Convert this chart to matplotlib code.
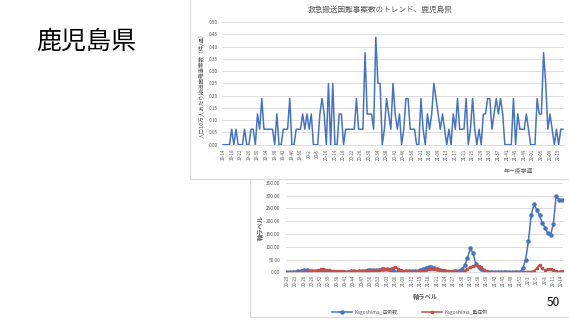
import matplotlib
matplotlib.use('Agg')
import matplotlib.pyplot as plt
from matplotlib.patches import Rectangle
import numpy as np

plt.rcParams['font.family'] = ['Noto Sans CJK JP', 'DejaVu Sans']

# 上のグラフ: 人口10万人あたり搬送困難事案数（週ごと）
top_weeks = ([f"19-{w}" for w in range(14, 53)] + [f"20-{w}" for w in range(1, 54)]
             + [f"21-{w:02d}" for w in range(1, 53)] + [f"22-{w:02d}" for w in range(1, 16)])
top_rate = [
    0, 0, 0, 0, 0.063, 0, 0.063, 0, 0, 0,
    0.063, 0, 0, 0.063, 0.063, 0, 0.125, 0.063, 0.188, 0.063,
    0.063, 0.063, 0.063, 0.063, 0, 0.125, 0, 0, 0.063, 0.063,
    0.063, 0.188, 0, 0, 0.063, 0.063, 0.063, 0.125, 0.063, 0.125,
    0.063, 0.125, 0, 0, 0, 0.125, 0.188, 0.125, 0, 0.25,
    0, 0.25, 0, 0, 0.125, 0.125, 0, 0.063, 0.063, 0.063,
    0.063, 0.063, 0.188, 0.063, 0.063, 0.063, 0.375, 0.125, 0.125, 0.125,
    0.063, 0.438, 0.25, 0.25, 0, 0.063, 0.188, 0.125, 0.063, 0.25,
    0.125, 0.063, 0.125, 0, 0.063, 0.188, 0.188, 0.063, 0.063, 0.063,
    0, 0, 0.188, 0.063, 0, 0.125, 0.063, 0.125, 0.25, 0.188,
    0.125, 0.063, 0.125, 0.063, 0, 0.063, 0, 0.125, 0.063, 0.188,
    0.063, 0.063, 0.063, 0.188, 0, 0.063, 0.188, 0.063, 0, 0.063,
    0, 0.125, 0.125, 0.188, 0.188, 0.063, 0.125, 0.188, 0.125, 0.188,
    0.125, 0, 0, 0, 0, 0.188, 0, 0.125, 0.063, 0.063,
    0.063, 0.125, 0.063, 0, 0, 0, 0.188, 0.125, 0.125, 0.375,
    0.25, 0.063, 0.125, 0.063, 0, 0.063, 0, 0.063, 0.063,
]

# 下のグラフ: 症例数と重症例
bottom_weeks = ([f"20-{w}" for w in range(20, 54)] + [f"21-{w:02d}" for w in range(1, 53)]
                + [f"22-{w}" for w in range(1, 15)])
cases = [
    0, 1, 2, 3, 5, 7, 8, 8, 7, 6,
    5, 4, 3, 2, 2, 3, 3, 2, 2, 2,
    1, 2, 3, 4, 4, 3, 4, 5, 6, 8,
    10, 9, 8, 10, 12, 13, 12, 10, 6, 3,
    2, 2, 3, 4, 5, 4, 5, 6, 8, 12,
    18, 21, 19, 15, 11, 8, 6, 4, 3, 3,
    4, 5, 6, 12, 28, 55, 93, 75, 32, 20,
    12, 3, 1, 1, 1, 2, 1, 1, 1, 1,
    2, 1, 1, 2, 3, 15, 50, 123, 225, 265,
    245, 222, 192, 175, 153, 145, 190, 300, 283, 281,
]
severe = [
    2, 2, 2, 2, 3, 3, 3, 3, 4, 4,
    5, 8, 11, 12, 10, 8, 7, 6, 5, 4,
    4, 3, 3, 4, 5, 5, 5, 6, 7, 7,
    8, 9, 10, 10, 11, 12, 12, 14, 17, 20,
    14, 8, 6, 5, 4, 3, 3, 4, 5, 7,
    9, 11, 12, 12, 11, 10, 9, 7, 6, 5,
    4, 3, 2, 2, 5, 12, 20, 24, 27, 26,
    20, 10, 4, 2, 2, 1, 1, 1, 1, 1,
    1, 1, 1, 1, 2, 2, 2, 3, 3, 6,
    15, 30, 15, 8, 13, 12, 8, 4, 3, 6,
]

W, H = 569, 320
GREY = '#595959'
GRID = '#D9D9D9'
BLUE = '#4472C4'
RED = '#C0504D'


def px_box(x0, y0, x1, y1):
    return [x0 / W, 1 - y1 / H, (x1 - x0) / W, (y1 - y0) / H]


fig = plt.figure(figsize=(W / 100, H / 100), dpi=100)
fig.patch.set_facecolor('white')

# グラフの枠
fig.add_artist(Rectangle((250 / W, 1 - 317 / H), (572 - 250) / W, (317 - 165) / H,
                         transform=fig.transFigure, facecolor='white',
                         edgecolor=GRID, lw=0.8, zorder=-2))
fig.add_artist(Rectangle((190 / W, 1 - 179 / H), (572 - 190) / W, 181 / H,
                         transform=fig.transFigure, facecolor='white',
                         edgecolor=GRID, lw=0.8, zorder=-1))

# 上のグラフ
ax1 = fig.add_axes(px_box(222, 22, 564, 144.7))
ax1.set_facecolor('none')
x1 = np.arange(len(top_rate))
ax1.plot(x1, top_rate, color=BLUE, lw=1.1)
ax1.set_xlim(-0.5, len(top_rate) - 0.5)
ax1.set_ylim(0, 0.5)
yt = np.arange(0, 0.51, 0.05)
ax1.set_yticks(yt)
ax1.set_yticklabels([f"{v:.2f}" for v in yt])
ax1.set_xticks(x1[::4])
ax1.set_xticklabels(top_weeks[::4], rotation=90)
ax1.yaxis.grid(True, color=GRID, lw=0.6)
ax1.set_axisbelow(True)
for s in ['top', 'right', 'left']:
    ax1.spines[s].set_visible(False)
ax1.spines['bottom'].set_color(GRID)
ax1.spines['bottom'].set_linewidth(0.6)
ax1.tick_params(axis='y', length=0, labelsize=3.4, colors=GREY, pad=3)
ax1.tick_params(axis='x', length=0, labelsize=3.2, colors=GREY, pad=3)

fig.text(380 / W, 1 - 10 / H, '救急搬送困難事案数のトレンド、鹿児島県',
         ha='center', va='center', fontsize=5.5, color=GREY)
fig.text(202 / W, 1 - 84 / H, '人口10万人あたり搬送困難事案数（件/週）',
         ha='center', va='center', rotation=90, fontsize=4, color=GREY)
fig.text(518 / W, 1 - 170 / H, '年－疫学週', ha='center', va='center',
         fontsize=4.2, color=GREY)

# 下のグラフ
ax2 = fig.add_axes(px_box(285.9, 182.7, 563.1, 272.3))
ax2.set_facecolor('none')
x2 = np.arange(len(cases))
ax2.plot(x2, cases, color=BLUE, lw=1.1, marker='o', ms=2.2, label='Kagoshima_症例数')
ax2.plot(x2, severe, color=RED, lw=1.1, marker='s', ms=2.0, label='Kagoshima_重症例')
ax2.set_xlim(-0.5, len(cases) - 0.5)
ax2.set_ylim(0, 350)
yt2 = np.arange(0, 351, 50)
ax2.set_yticks(yt2)
ax2.set_yticklabels([f"{v:.2f}" for v in yt2])
ax2.set_xticks(x2[::3])
ax2.set_xticklabels(bottom_weeks[::3], rotation=90)
ax2.yaxis.grid(True, color=GRID, lw=0.6)
ax2.set_axisbelow(True)
for s in ['top', 'right', 'left']:
    ax2.spines[s].set_visible(False)
ax2.spines['bottom'].set_color(GRID)
ax2.spines['bottom'].set_linewidth(0.6)
ax2.tick_params(axis='y', length=0, labelsize=3.4, colors=GREY, pad=4)
ax2.tick_params(axis='x', length=0, labelsize=3.2, colors=GREY, pad=2)

fig.text(425 / W, 1 - 296 / H, '軸ラベル', ha='center', va='center',
         fontsize=4.5, color=GREY, fontweight='bold')
fig.text(260 / W, 1 - 228 / H, '軸ラベル', ha='center', va='center',
         rotation=90, fontsize=4.5, color=GREY, fontweight='bold')

leg = fig.legend(loc='center', bbox_to_anchor=(410 / W, 1 - 312 / H), ncol=2,
                 fontsize=3.5, frameon=False, handlelength=4, columnspacing=5,
                 handletextpad=0.6)
for t in leg.get_texts():
    t.set_color(GREY)

fig.text(553 / W, 1 - 303 / H, '50', ha='center', va='center', fontsize=8.5, color='black')
fig.text(86 / W, 1 - 42 / H, '鹿児島県', ha='center', va='center', fontsize=18, color='black')

fig.savefig('out.png', dpi=100)
